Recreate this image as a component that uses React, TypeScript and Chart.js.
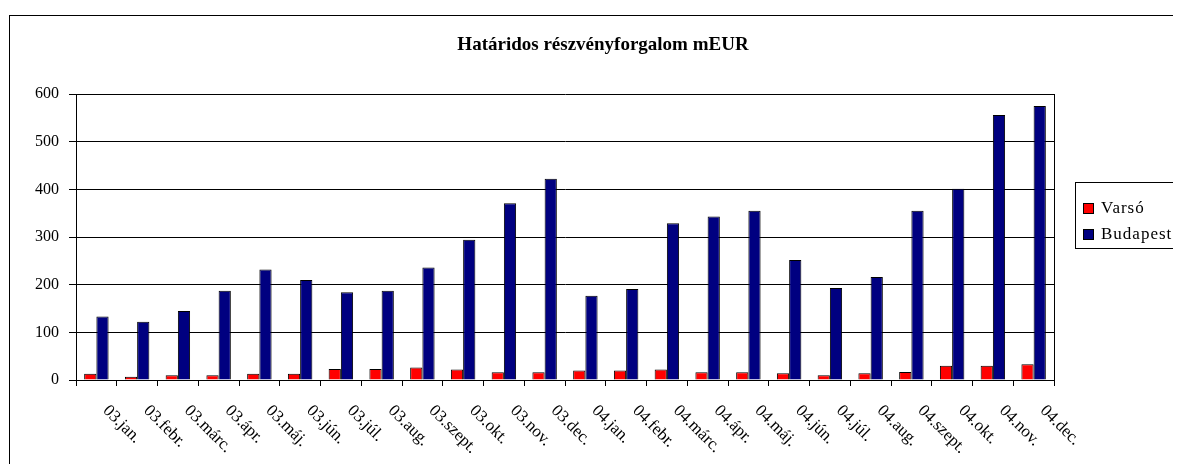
import React, { useEffect, useRef } from 'react';
import Chart from 'chart.js/auto';

const TITLE = 'Határidos részvényforgalom mEUR';
const CATEGORIES = [
  '03.jan.', '03.febr.', '03.márc.', '03.ápr.', '03.máj.', '03.jún.', '03.júl.', '03.aug.',
  '03.szept.', '03.okt.', '03.nov.', '03.dec.', '04.jan.', '04.febr.', '04.márc.', '04.ápr.',
  '04.máj.', '04.jún.', '04.júl.', '04.aug.', '04.szept.', '04.okt.', '04.nov.', '04.dec.',
];
const VARSO = [13, 7, 10, 10, 13, 13, 23, 23, 26, 22, 16, 16, 20, 20, 22, 16, 16, 14, 10, 14, 17, 30, 30, 33];
const BUDAPEST = [133, 122, 145, 187, 232, 210, 184, 187, 236, 294, 371, 422, 177, 191, 329, 343, 355, 252, 193, 216, 355, 401, 556, 575];
const SERIES_NAMES = ['Varsó', 'Budapest'];
const SERIES_COLORS = ['#FF0000', '#000080'];
const Y_MIN = 0;
const Y_MAX = 600;
const Y_STEP = 100;

const FONT = '"Liberation Serif", "Times New Roman", serif';

export default function App() {
  const ref = useRef<HTMLCanvasElement>(null);

  useEffect(() => {
    const canvas = ref.current!;
    const decor = {
      id: 'decor',
      afterDraw(chart: any) {
        const ctx = chart.ctx as CanvasRenderingContext2D;
        const area = chart.chartArea;
        ctx.save();
        ctx.strokeStyle = '#000';
        ctx.lineWidth = 1;
        // outer chart box
        ctx.strokeRect(1.5, 7.5, 3000, 3000);
        // plot area right border
        const rx = Math.round(area.right) + 0.5;
        ctx.beginPath();
        ctx.moveTo(rx, Math.round(area.top));
        ctx.lineTo(rx, Math.round(area.bottom) + 1);
        ctx.stroke();
        // title
        ctx.fillStyle = '#000';
        ctx.font = `bold 19px ${FONT}`;
        ctx.textAlign = 'center';
        ctx.textBaseline = 'alphabetic';
        ctx.fillText(TITLE, 595, 41.5);
        // x labels rotated clockwise
        const xs = chart.scales.x;
        ctx.font = `17px ${FONT}`;
        ctx.textAlign = 'left';
        ctx.textBaseline = 'middle';
        CATEGORIES.forEach((lab, i) => {
          const x = xs.getPixelForValue(i);
          ctx.save();
          ctx.translate(x + 9, area.bottom + 28);
          ctx.rotate(Math.PI / 4);
          ctx.fillText(lab, 0, 0);
          ctx.restore();
        });
        // legend
        ctx.strokeRect(1067.5, 174.5, 300, 66);
        ctx.font = `17px ${FONT}`;
        (ctx as any).letterSpacing = '1px';
        SERIES_NAMES.forEach((name, i) => {
          const y = 195.5 + i * 26;
          ctx.fillStyle = SERIES_COLORS[i];
          ctx.fillRect(1075.5, y, 10, 10);
          ctx.strokeRect(1075.5, y, 10, 10);
          ctx.fillStyle = '#000';
          ctx.textAlign = 'left';
          ctx.textBaseline = 'middle';
          ctx.fillText(name, 1093, y + 5);
        });
        ctx.restore();
      },
    };

    const chart = new Chart(canvas, {
      type: 'bar',
      data: {
        labels: CATEGORIES,
        datasets: [
          {
            label: SERIES_NAMES[0],
            data: VARSO,
            backgroundColor: SERIES_COLORS[0],
            borderColor: '#000',
            borderWidth: 1,
            categoryPercentage: 0.6,
            barPercentage: 1.0,
          },
          {
            label: SERIES_NAMES[1],
            data: BUDAPEST,
            backgroundColor: SERIES_COLORS[1],
            borderColor: '#000',
            borderWidth: 1,
            categoryPercentage: 0.6,
            barPercentage: 1.0,
          },
        ],
      },
      options: {
        animation: false,
        responsive: true,
        maintainAspectRatio: false,
        layout: { padding: { top: 86, left: 0, right: 127, bottom: 0 } },
        plugins: {
          legend: { display: false },
          title: { display: false },
          tooltip: { enabled: false },
        },
        scales: {
          x: {
            afterFit: (s: any) => { s.height = 84; },
            ticks: { display: false },
            grid: { drawOnChartArea: false, drawTicks: true, tickLength: 6, color: '#000', offset: true },
            border: { display: true, color: '#000', width: 1 },
          },
          y: {
            min: Y_MIN,
            max: Y_MAX,
            afterFit: (s: any) => { s.width = 68; },
            ticks: { stepSize: Y_STEP, color: '#000', font: { family: FONT, size: 16 }, padding: 10 },
            grid: { color: '#000', lineWidth: 1, tickLength: 7, drawTicks: true },
            border: { display: true, color: '#000', width: 1 },
          },
        },
      },
      plugins: [decor],
    });
    return () => chart.destroy();
  }, []);

  return (
    <div style={{ width: 1173, height: 456, overflow: 'hidden', position: 'relative' }}>
      <canvas ref={ref} />
    </div>
  );
}
